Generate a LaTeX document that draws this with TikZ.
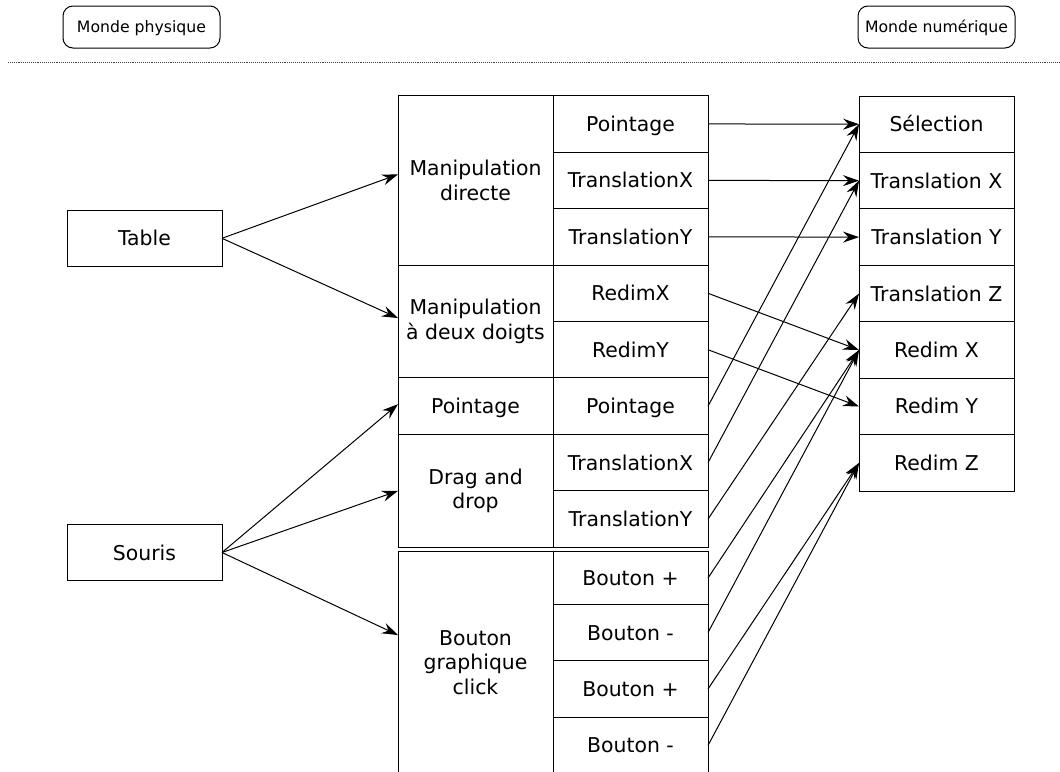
\documentclass[tikz,border=0pt]{standalone}
\usepackage{fontspec}
\setmainfont{DejaVu Sans}
\usetikzlibrary{arrows.meta}
\begin{document}
\begin{tikzpicture}[x=1pt,y=-1pt,
  cell/.style={draw, line width=1pt, rectangle, inner sep=0pt, outer sep=0pt,
    anchor=north west, minimum width=155pt, minimum height=56.45pt, align=center,
    font=\fontsize{20.4}{24.5}\selectfont},
  one/.style={text height=15pt, text depth=0pt},
  conn/.style={line width=1pt, -{Stealth[length=16pt,width=11pt,inset=5.5pt]}},
  world/.style={draw, line width=1pt, rounded corners=10pt, minimum width=157pt,
    minimum height=42pt, inner sep=0pt, font=\fontsize{15.7}{18}\selectfont,
    text height=11.5pt, text depth=0pt}
]
\useasboundingbox (0,0) rectangle (1060,771);
\fill[white] (0,0) rectangle (1060,771);
\clip (0,0) rectangle (1060,771);

% top labels and separator
\node[world] (phys) at (141.5,27) {Monde physique};
\node[world] (num) at (936.5,27) {Monde numérique};
\coordinate (sepL) at (8,62);
\coordinate (sepR) at (1060,62);
\draw[densely dotted, line width=0.9pt, black!75] (sepL) -- (sepR);

% inputs
\node[cell, one, anchor=center] (table) at (144.5,238.3) {Table};
\node[cell, one, anchor=center] (souris) at (144.5,552.5) {Souris};

% middle: interaction techniques
\node[cell, minimum height=169.35pt] (md)  at (398,95.7)   {Manipulation\\directe};
\node[cell, minimum height=112.9pt]  (mdd) at (398,265.05) {Manipulation\\à deux doigts};
\node[cell, one]                     (lpt) at (398,377.95) {Pointage};
\node[cell, minimum height=112.9pt]  (dd)  at (398,434.4)  {Drag and\\drop};
\node[cell, minimum height=221.9pt]  (bg)  at (398,551.7)  {Bouton\\graphique\\click};

\node[cell, one] (a1) at (553,95.7)   {Pointage};
\node[cell, one] (a2) at (553,152.15) {TranslationX};
\node[cell, one] (a3) at (553,208.6)  {TranslationY};
\node[cell, one] (a4) at (553,265.05) {RedimX};
\node[cell, one] (a5) at (553,321.5)  {RedimY};
\node[cell, one] (a6) at (553,377.95) {Pointage};
\node[cell, one] (a7) at (553,434.4)  {TranslationX};
\node[cell, one] (a8) at (553,490.85) {TranslationY};
\node[cell, one, minimum height=52.6pt] (b1) at (553,551.7) {Bouton +};
\node[cell, one] (b2) at (553,604.3)  {Bouton -};
\node[cell, one] (b3) at (553,660.75) {Bouton +};
\node[cell, one] (b4) at (553,717.2)  {Bouton -};

% right: digital actions
\node[cell, one] (r1) at (859,96)     {Sélection};
\node[cell, one] (r2) at (859,152.45) {Translation X};
\node[cell, one] (r3) at (859,208.9)  {Translation Y};
\node[cell, one] (r4) at (859,265.35) {Translation Z};
\node[cell, one] (r5) at (859,321.8)  {Redim X};
\node[cell, one] (r6) at (859,378.25) {Redim Y};
\node[cell, one] (r7) at (859,434.7)  {Redim Z};

% connectors left
\draw[conn] (table.east) -- ([yshift=6pt]md.west);
\draw[conn] (table.east) -- ([yshift=3.5pt]mdd.west);
\draw[conn] (souris.east) -- ([yshift=2pt]lpt.west);
\draw[conn] (souris.east) -- (dd.west);
\draw[conn] (souris.east) -- ([yshift=27.6pt]bg.west);

% connectors right
\draw[conn] (a1.east) -- (r1.west);
\draw[conn] (a2.east) -- (r2.west);
\draw[conn] (a3.east) -- (r3.west);
\draw[conn] (a4.east) -- (r5.west);
\draw[conn] (a5.east) -- (r6.west);
\draw[conn] (a6.east) -- (r1.west);
\draw[conn] (a7.east) -- (r2.west);
\draw[conn] (a8.east) -- (r4.west);
\draw[conn] (b1.east) -- (r5.west);
\draw[conn] (b2.east) -- (r5.west);
\draw[conn] (b3.east) -- (r7.west);
\draw[conn] (b4.east) -- (r7.west);
\end{tikzpicture}
\end{document}
